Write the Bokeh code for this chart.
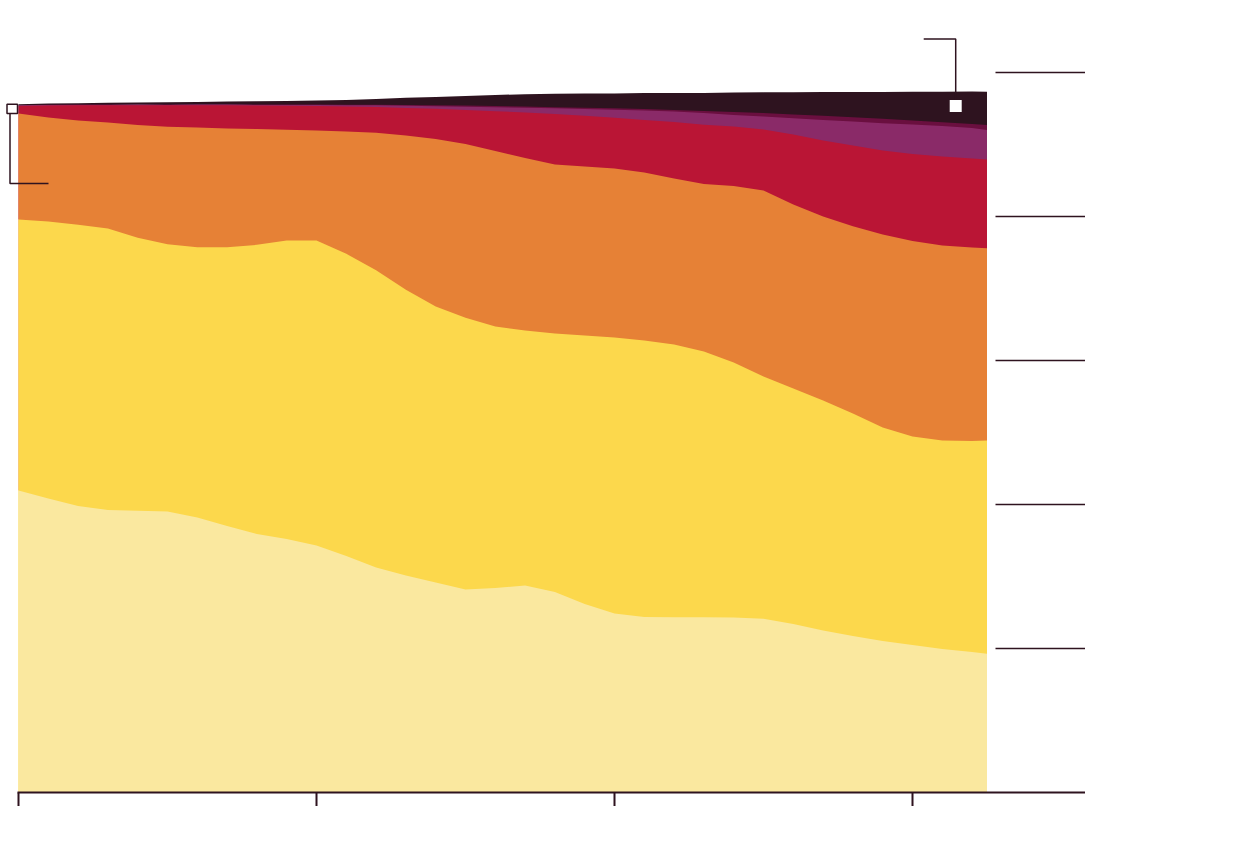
import numpy as np
from bokeh.plotting import figure
from bokeh.models import FixedTicker
from bokeh.embed import file_html
from bokeh.resources import INLINE

# data; one tick step on the value axis = 1.0
years = list(range(1990, 2023)) + [2022.5]
light = [2.097, 2.042, 1.990, 1.962, 1.956, 1.951, 1.910, 1.851, 1.795, 1.760,
         1.715, 1.642, 1.563, 1.507, 1.458, 1.410, 1.420, 1.438, 1.392, 1.309,
         1.243, 1.219, 1.217, 1.217, 1.215, 1.206, 1.170, 1.125, 1.087, 1.052,
         1.024, 0.997, 0.976, 0.963]
yellow = [1.882, 1.924, 1.953, 1.955, 1.896, 1.856, 1.877, 1.936, 2.008, 2.073,
          2.118, 2.099, 2.063, 1.984, 1.917, 1.887, 1.816, 1.771, 1.795, 1.865,
          1.917, 1.920, 1.894, 1.845, 1.771, 1.683, 1.635, 1.597, 1.545, 1.483,
          1.448, 1.448, 1.465, 1.481]
orange = [0.736, 0.722, 0.724, 0.736, 0.783, 0.817, 0.831, 0.824, 0.804, 0.769,
          0.764, 0.849, 0.955, 1.072, 1.163, 1.207, 1.219, 1.198, 1.174, 1.174,
          1.174, 1.167, 1.153, 1.163, 1.226, 1.292, 1.278, 1.278, 1.301, 1.340,
          1.358, 1.354, 1.344, 1.335]
red = [0.053, 0.083, 0.106, 0.120, 0.138, 0.148, 0.155, 0.161, 0.163, 0.167,
       0.170, 0.174, 0.179, 0.191, 0.210, 0.236, 0.276, 0.316, 0.351, 0.351,
       0.351, 0.365, 0.392, 0.413, 0.413, 0.424, 0.486, 0.528, 0.560, 0.583,
       0.604, 0.618, 0.618, 0.616]
purple = [0.003, 0.003, 0.002, 0.002, 0.003, 0.003, 0.003, 0.004, 0.005, 0.006,
          0.007, 0.008, 0.012, 0.015, 0.017, 0.022, 0.028, 0.032, 0.039, 0.048,
          0.057, 0.065, 0.073, 0.080, 0.080, 0.089, 0.113, 0.143, 0.167, 0.190,
          0.205, 0.212, 0.212, 0.206]
magenta = [0.002, 0.002, 0.002, 0.002, 0.002, 0.003, 0.003, 0.003, 0.003, 0.003,
           0.003, 0.004, 0.004, 0.006, 0.007, 0.008, 0.009, 0.009, 0.008, 0.009,
           0.010, 0.010, 0.010, 0.014, 0.021, 0.024, 0.026, 0.028, 0.030, 0.030,
           0.028, 0.026, 0.028, 0.035]
dark = [0.006, 0.008, 0.010, 0.013, 0.014, 0.016, 0.017, 0.019, 0.022, 0.024,
        0.028, 0.033, 0.040, 0.049, 0.058, 0.067, 0.076, 0.085, 0.093, 0.099,
        0.103, 0.111, 0.118, 0.126, 0.135, 0.144, 0.154, 0.165, 0.175, 0.187,
        0.199, 0.212, 0.225, 0.231]

x_ticks = [1990, 2000, 2010, 2020]
y_ticks = [1, 2, 3, 4, 5]

series = [light, yellow, orange, red, purple, magenta, dark]
colors = ["#FAE89F", "#FCD84C", "#E68136", "#BA1535", "#8A2A68", "#6A0F3F", "#2E131F"]
ink = "#2E131F"

tops = np.cumsum(np.array(series), axis=0)
zero = np.zeros(len(years))
# each layer reaches down over the layer beneath it, so no seams show
bottoms = [zero, zero] + [tops[k - 2] for k in range(2, len(series))]

px_year = 29.8  # pixels per year
px_unit = 144.0  # pixels per value step
x0 = 1990 - 18 / px_year
x1 = 1990 + 1067 / px_year

p = figure(frame_width=1085, frame_height=792, x_range=(x0, x1), y_range=(0, 792 / px_unit),
           y_axis_location="right", toolbar_location=None, output_backend="svg",
           min_border=0, min_border_left=0, min_border_top=0, min_border_right=0)
p.outline_line_color = None
p.grid.visible = False
p.background_fill_color = "white"

for k in reversed(range(len(series))):
    p.varea(x=years, y1=bottoms[k], y2=tops[k], fill_color=colors[k])

# bottom axis
p.xaxis.ticker = FixedTicker(ticks=x_ticks)
p.xaxis.bounds = (1990 - 1 / px_year, x1)
p.xaxis.major_tick_in = 0
p.xaxis.major_tick_out = 14
p.xaxis.minor_tick_line_color = None
p.xaxis.major_label_text_color = None
p.xaxis.axis_line_color = ink
p.xaxis.axis_line_width = 2
p.xaxis.major_tick_line_color = ink
p.xaxis.major_tick_line_width = 2

# right axis: only long ticks reaching into the plot
p.yaxis.ticker = FixedTicker(ticks=y_ticks)
p.yaxis.axis_line_color = None
p.yaxis.major_tick_in = 90
p.yaxis.major_tick_out = 0
p.yaxis.minor_tick_line_color = None
p.yaxis.major_label_text_color = None
p.yaxis.major_tick_line_color = ink
p.yaxis.major_tick_line_width = 1.5

# callouts
total0 = tops[-1][0]
base0 = tops[2][0]
p.quad(left=[1990 - 11.5 / px_year], right=[1990 - 1 / px_year], top=[total0], bottom=[base0],
       fill_color="white", line_color=ink, line_width=1.5)
lx = 1990 - 8.5 / px_year
p.line([lx, lx, 1990 + 30 / px_year], [base0, base0 - 70 / px_unit, base0 - 70 / px_unit],
       line_color=ink, line_width=1.5)

sx = years[-1] - 1.05
sy = tops[-1][-1] - 0.1
p.line([sx - 32 / px_year, sx, sx], [sy + 67 / px_unit, sy + 67 / px_unit, sy],
       line_color=ink, line_width=1.5)
p.scatter([sx], [sy], marker="square", size=12, fill_color="white", line_color=None)

open("out.html", "w").write(file_html(p, INLINE))
